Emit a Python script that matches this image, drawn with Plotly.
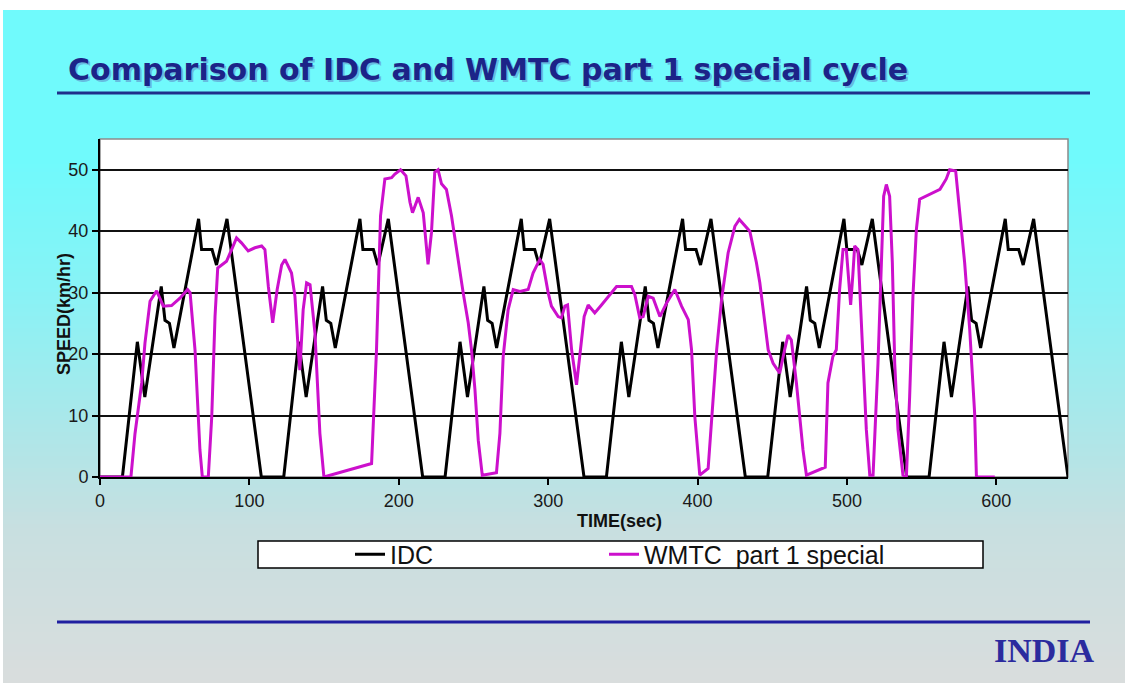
import plotly.graph_objects as go

# ---------------- data ----------------
IDC_TIME = [0, 15, 25, 30, 41, 43.5, 46.5, 49.5, 66, 68, 75, 78, 85, 108,
            123, 133, 138, 149, 151.5, 154.5, 157.5, 174, 176, 183, 186, 193, 216,
            231, 241, 246, 257, 259.5, 262.5, 265.5, 282, 284, 291, 294, 301, 324,
            339, 349, 354, 365, 367.5, 370.5, 373.5, 390, 392, 399, 402, 409, 432,
            447, 457, 462, 473, 475.5, 478.5, 481.5, 498, 500, 507, 510, 517, 540,
            555, 565, 570, 581, 583.5, 586.5, 589.5, 606, 608, 615, 618, 625, 648]
IDC_SPEED = [0, 0, 22, 13, 31, 25.5, 25, 21, 42, 37, 37, 34.5, 42, 0,
             0, 22, 13, 31, 25.5, 25, 21, 42, 37, 37, 34.5, 42, 0,
             0, 22, 13, 31, 25.5, 25, 21, 42, 37, 37, 34.5, 42, 0,
             0, 22, 13, 31, 25.5, 25, 21, 42, 37, 37, 34.5, 42, 0,
             0, 22, 13, 31, 25.5, 25, 21, 42, 37, 37, 34.5, 42, 0,
             0, 22, 13, 31, 25.5, 25, 21, 42, 37, 37, 34.5, 42, 0]

WMTC_TIME = [0, 20.7, 23.4, 27.9, 30.1, 33.5, 37.9, 42.4, 47.9, 53.5, 58.6, 60.3, 63.6, 66.9, 68.5,
             72.5, 74.8, 77, 78.8, 84.7, 88.1, 91.4, 94.7, 99.2, 103.7, 108.2, 110.4, 112.7, 115.6,
             118.6, 121.6, 123.8, 128.2, 130.5, 132.7, 133.8, 136, 138.3, 140.6, 143.9, 147.2, 149.9,
             181.8, 185.1, 187.8, 190.7, 195.2, 197.4, 201.2, 204.8, 207.5, 209.2, 213, 216.4, 219.6,
             221.9, 224.1, 226.3, 228.6, 231.9, 235.3, 238.7, 240.9, 243.1, 246.5, 248.7, 251, 253.2,
             255.9, 265.4, 267.7, 269.9, 273.2, 276.6, 281.1, 286.6, 289.9, 294.4, 296.6, 300, 302.2,
             306.7, 308.9, 311.2, 313, 315.7, 319, 321.2, 324.1, 326.8, 331.2, 335.7, 340.2, 345.8,
             355.8, 358, 361.3, 363.6, 367, 370.3, 374.8, 379.3, 384.8, 389.3, 393.8, 396, 398.2,
             401.5, 407.1, 409.4, 412.8, 416.1, 420.5, 425, 428, 435, 439.4, 441.7, 445, 447.3,
             450.6, 455, 458.3, 460.6, 462.8, 466.2, 470.6, 472.9, 485.5, 487.3, 490.6, 492.9, 495.1,
             497.4, 499.6, 501, 502.5, 504, 505.2, 507.4, 509.6, 510.8, 513, 515.3, 517.5, 520.8,
             523, 524.6, 526.4, 528.6, 530.4, 532, 534.2, 537.5, 539.8, 542, 544.2, 546.5, 548.7,
             555.3, 562.3, 566.5, 568.8, 572.8, 575.5, 578.8, 582.2, 585.5, 586.7, 599]
WMTC_SPEED = [0, 0, 7, 15.3, 21.8, 28.6, 30.3, 27.8, 27.9, 29.1, 30.5, 30, 20.7, 4.4, 0,
              0, 9.8, 26.1, 34, 35.1, 37, 38.9, 38.1, 36.8, 37.3, 37.6, 37, 31, 25.1,
              30.5, 34.5, 35.4, 33.2, 29.4, 20.7, 17.4, 27.2, 31.6, 31.3, 23.4, 7.1, 0,
              2.2, 20.7, 42.5, 48.5, 48.7, 49.3, 50, 49, 44.7, 43, 45.5, 43, 34.6,
              39.8, 49.6, 50, 47.7, 46.8, 42.5, 37, 33.2, 30, 25.1, 20.7, 14.2, 6,
              0.3, 0.7, 7.1, 19.6, 27.2, 30.5, 30.2, 30.5, 33.2, 35.4, 34.6, 30, 27.8,
              26.1, 25.9, 27.8, 28, 20.7, 15, 19.6, 26.1, 28, 26.7, 28, 29.4, 31,
              31, 29.7, 25.9, 26.1, 29.4, 29.1, 26.1, 28.3, 30.5, 27.8, 25.6, 20.7, 9.8,
              0.3, 1.4, 8.7, 20.7, 28.9, 36.5, 40.8, 41.9, 40, 34.9, 31.6, 25.1, 20.7,
              18.5, 16.9, 20.7, 23.1, 22.3, 15.3, 4.4, 0.3, 1.6, 15.3, 19.6, 20.7, 30.5,
              37, 37, 32, 28, 33, 37.6, 37, 26.1, 18.5, 7.7, 0.3, 0.3, 18.5,
              34.9, 45.7, 47.6, 45.7, 34.9, 18.5, 7.7, 0.3, 0, 13.1, 29.4, 40.3, 45.2,
              46, 46.8, 48.5, 50, 49.8, 43, 34.9, 24, 10.4, 0, 0]

X_TICKS = [0, 100, 200, 300, 400, 500, 600]
Y_TICKS = [0, 10, 20, 30, 40, 50]
SERIES_NAMES = ["IDC", "WMTC  part 1 special"]
TITLE = "Comparison of IDC and WMTC part 1 special cycle"
X_TITLE = "TIME(sec)"
Y_TITLE = "SPEED(km/hr)"
FOOTER = "INDIA"

# ---------------- layout geometry ----------------
W, H = 1125, 683
L, R, T, B = 100, 1068, 139, 477


def px(xp):
    return (xp - L) / (R - L)


def py(yp):
    return (B - yp) / (B - T)


fig = go.Figure()
fig.add_trace(go.Scatter(x=IDC_TIME, y=IDC_SPEED, mode="lines", name=SERIES_NAMES[0],
                         legend="legend", line=dict(color="#000000", width=3)))
fig.add_trace(go.Scatter(x=WMTC_TIME, y=WMTC_SPEED, mode="lines", name=SERIES_NAMES[1],
                         legend="legend2", line=dict(color="#cc10cc", width=3)))

shapes = []
# background gradient (vertical)
stops = [(0, (112, 250, 252)), (160, (112, 250, 252)), (300, (138, 242, 245)),
         (450, (178, 229, 231)), (530, (200, 223, 224)), (683, (217, 221, 221))]


def col_at(y):
    for (y0, c0), (y1, c1) in zip(stops[:-1], stops[1:]):
        if y0 <= y <= y1:
            f = (y - y0) / (y1 - y0) if y1 > y0 else 0
            return tuple(round(a + (b - a) * f) for a, b in zip(c0, c1))
    return stops[-1][1]


step = 4
for y0 in range(0, H, step):
    c = col_at(y0 + step / 2)
    shapes.append(dict(type="rect", xref="paper", yref="paper", layer="below",
                       x0=px(0), x1=px(W), y0=py(y0), y1=py(min(H, y0 + step + 1)),
                       line=dict(width=0), fillcolor="rgb(%d,%d,%d)" % c))
# white page edge
shapes.append(dict(type="rect", xref="paper", yref="paper", layer="below",
                   x0=px(0), x1=px(W), y0=py(0), y1=py(10), line=dict(width=0), fillcolor="white"))
shapes.append(dict(type="rect", xref="paper", yref="paper", layer="below",
                   x0=px(0), x1=px(3), y0=py(0), y1=py(H), line=dict(width=0), fillcolor="white"))
# plot area
shapes.append(dict(type="rect", xref="paper", yref="paper", layer="below",
                   x0=0, x1=1, y0=0, y1=1, line=dict(width=1.5, color="#8a8a8a"), fillcolor="white"))
# rules under title and above footer
shapes.append(dict(type="line", xref="paper", yref="paper", x0=px(57), x1=px(1090),
                   y0=py(93), y1=py(93), line=dict(color="#1f2f8a", width=3)))
shapes.append(dict(type="line", xref="paper", yref="paper", x0=px(57), x1=px(1090),
                   y0=py(622), y1=py(622), line=dict(color="#1f1fa0", width=3)))
# legend box
shapes.append(dict(type="rect", xref="paper", yref="paper", layer="below",
                   x0=px(258), x1=px(983), y0=py(541), y1=py(568),
                   line=dict(color="black", width=1.5), fillcolor="white"))

TITLE_FONT = "DejaVu Sans, Verdana, Liberation Sans"
annotations = [
    dict(text="<b>" + TITLE + "</b>", xref="paper", yref="paper", x=px(68), y=py(71),
         xanchor="left", yanchor="middle", showarrow=False,
         font=dict(family=TITLE_FONT, size=30, color="rgba(90,110,190,0.45)")),
    dict(text="<b>" + TITLE + "</b>", xref="paper", yref="paper", x=px(66), y=py(69),
         xanchor="left", yanchor="middle", showarrow=False,
         font=dict(family=TITLE_FONT, size=30, color="#1c2488")),
    dict(text="<b>" + FOOTER + "</b>", xref="paper", yref="paper", x=px(1097), y=py(650), xanchor="right",
         yanchor="middle", showarrow=False,
         font=dict(family="Liberation Serif, Times New Roman", size=34, color="#2b2b9e")),
    dict(text="<b>" + X_TITLE + "</b>", xref="paper", yref="paper", x=px(619), y=py(521), xanchor="center",
         yanchor="middle", showarrow=False, font=dict(family="Liberation Sans, Arial", size=18, color="#111")),
    dict(text="<b>" + Y_TITLE + "</b>", xref="paper", yref="paper", x=px(64), y=py(314), xanchor="center",
         yanchor="middle", textangle=-90, showarrow=False,
         font=dict(family="Liberation Sans, Arial", size=18, color="#111")),
]

LEGEND_FONT = dict(family="Liberation Sans, Arial", size=25, color="#111")
fig.update_layout(
    width=W, height=H,
    margin=dict(l=L, r=W - R, t=T, b=H - B, pad=0),
    paper_bgcolor="white", plot_bgcolor="rgba(0,0,0,0)",
    shapes=shapes, annotations=annotations,
    showlegend=True,
    legend=dict(orientation="h", x=px(350), y=py(554.5), xanchor="left", yanchor="middle",
                bgcolor="rgba(0,0,0,0)", borderwidth=0, font=LEGEND_FONT),
    legend2=dict(orientation="h", x=px(604), y=py(554.5), xanchor="left", yanchor="middle",
                 bgcolor="rgba(0,0,0,0)", borderwidth=0, font=LEGEND_FONT),
    xaxis=dict(range=[0, 648], tickvals=X_TICKS, showgrid=False, zeroline=False,
               showline=True, linecolor="black", linewidth=2, ticks="outside", ticklen=6,
               tickcolor="black", tickwidth=1.5,
               tickfont=dict(family="Liberation Sans, Arial", size=18, color="#1a1a1a")),
    yaxis=dict(range=[0, 55], tickvals=Y_TICKS, showgrid=True, gridcolor="#111", gridwidth=1.5,
               zeroline=False, showline=True, linecolor="black", linewidth=2, ticks="outside",
               ticklen=6, tickcolor="black", tickwidth=1.5,
               tickfont=dict(family="Liberation Sans, Arial", size=18, color="#1a1a1a")),
)

fig.write_html("out.html", config={"displayModeBar": False},
               post_script="document.body.style.margin='0';")
